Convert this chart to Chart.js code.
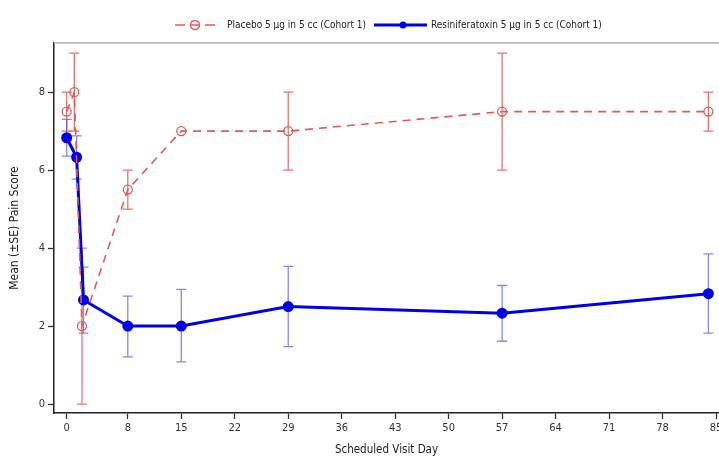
<!DOCTYPE html>
<html><head><meta charset="utf-8">
<script src="https://cdn.jsdelivr.net/npm/chart.js@4/dist/chart.umd.min.js"></script>
<style>html,body{margin:0;padding:0;background:#fff;overflow:hidden;width:719px;height:461px}#wrap{width:726px;height:461px}</style>
</head><body><div id="wrap"><canvas id="c"></canvas></div>
<script>
const placeboDays = [0, 1, 2, 8, 15, 29, 57, 84];
const placeboMean = [7.5, 8.0, 2.0, 5.5, 7.0, 7.0, 7.5, 7.5];
const placeboLow  = [7.0, 7.0, 0.0, 5.0, 7.0, 6.0, 6.0, 7.0];
const placeboHigh = [8.0, 9.0, 4.0, 6.0, 7.0, 8.0, 9.0, 8.0];
const rtxDays = [0, 1.3, 2.2, 8, 15, 29, 57, 84];
const rtxMean = [6.83, 6.33, 2.67, 2.0, 2.0, 2.5, 2.33, 2.83];
const rtxLow  = [6.36, 5.77, 1.82, 1.21, 1.08, 1.47, 1.61, 1.82];
const rtxHigh = [7.30, 6.88, 3.51, 2.77, 2.94, 3.53, 3.04, 3.85];
const xTicks = [0, 8, 15, 22, 29, 36, 43, 50, 57, 64, 71, 78, 85];
const yTicks = [0, 2, 4, 6, 8];
const labels = ['Placebo 5 \u00b5g in 5 cc (Cohort 1)', 'Resiniferatoxin 5 \u00b5g in 5 cc (Cohort 1)'];

const FONT = '"DejaVu Sans Condensed", "Liberation Sans", Arial, sans-serif';
const RED = '#e05a5a', BLUE = '#0000e6';

const mk = (xs, ys) => xs.map((x, i) => ({x, y: ys[i]}));

const errPlugin = {
  id: 'err',
  beforeDatasetsDraw(chart) {
    const {ctx, scales: {x, y}} = chart;
    const sets = [[placeboDays, placeboLow, placeboHigh, 'rgba(224,90,90,0.85)'],
                  [rtxDays, rtxLow, rtxHigh, 'rgba(70,70,230,0.65)']];
    ctx.save();
    sets.forEach(([xs, lo, hi, col]) => {
      ctx.strokeStyle = col; ctx.lineWidth = 1.3;
      xs.forEach((d, i) => {
        if (hi[i] === lo[i]) return;
        const px = x.getPixelForValue(d), p1 = y.getPixelForValue(lo[i]), p2 = y.getPixelForValue(hi[i]);
        ctx.beginPath();
        ctx.moveTo(px, p1); ctx.lineTo(px, p2);
        ctx.moveTo(px - 5, p1); ctx.lineTo(px + 5, p1);
        ctx.moveTo(px - 5, p2); ctx.lineTo(px + 5, p2);
        ctx.stroke();
      });
    });
    ctx.restore();
  }
};

const framePlugin = {
  id: 'frame',
  afterDraw(chart) {
    const {ctx, chartArea: a} = chart;
    ctx.save();
    ctx.strokeStyle = '#c4c4c4'; ctx.lineWidth = 2;
    ctx.beginPath(); ctx.moveTo(a.left, a.top); ctx.lineTo(a.right, a.top); ctx.stroke();
    // legend
    const ds = chart.data.datasets;
    ctx.font = '10px ' + FONT; ctx.textBaseline = 'middle';
    const y0 = 25;
    let xx = 175;
    ctx.strokeStyle = RED; ctx.lineWidth = 1.5;
    ctx.beginPath(); ctx.moveTo(xx, y0); ctx.lineTo(xx + 10, y0); ctx.moveTo(xx + 30, y0); ctx.lineTo(xx + 40, y0); ctx.stroke();
    ctx.beginPath(); ctx.moveTo(xx + 15, y0); ctx.lineTo(xx + 25, y0); ctx.stroke();
    ctx.beginPath(); ctx.arc(xx + 20, y0, 4.5, 0, Math.PI * 2); ctx.stroke();
    ctx.fillStyle = '#222'; ctx.fillText(ds[0].label, xx + 52, y0);
    xx = 374;
    ctx.strokeStyle = BLUE; ctx.lineWidth = 3;
    ctx.beginPath(); ctx.moveTo(xx, y0); ctx.lineTo(xx + 53, y0); ctx.stroke();
    ctx.beginPath(); ctx.arc(xx + 29, y0, 3.5, 0, Math.PI * 2); ctx.fillStyle = BLUE; ctx.fill();
    ctx.fillStyle = '#222'; ctx.fillText(ds[1].label, xx + 57, y0);
    ctx.restore();
  }
};

new Chart(document.getElementById('c'), {
  type: 'line',
  data: {
    datasets: [
      {label: labels[0], data: mk(placeboDays, placeboMean), borderColor: RED, borderWidth: 1.6,
       borderDash: [8, 6], pointStyle: 'circle', pointRadius: 4.5, pointBackgroundColor: 'rgba(255,255,255,0)',
       pointBorderColor: RED, pointBorderWidth: 1.3, tension: 0},
      {label: labels[1], data: mk(rtxDays, rtxMean), borderColor: BLUE, borderWidth: 3,
       pointRadius: 4, pointBackgroundColor: BLUE, pointBorderColor: BLUE, tension: 0}
    ]
  },
  options: {
    responsive: true, maintainAspectRatio: false, animation: false,
    layout: {padding: {top: 43, right: 0, left: 0, bottom: 0}},
    plugins: {legend: {display: false}, tooltip: {enabled: false}},
    scales: {
      x: {type: 'linear', min: -1.66, max: 85.39,
          afterBuildTicks: s => { s.ticks = xTicks.map(v => ({value: v})); },
          afterFit: s => { s.height = 48; },
          grid: {display: true, drawOnChartArea: false, drawTicks: true, tickLength: 6, tickColor: '#333', tickWidth: 1.3},
          border: {display: true, color: '#222', width: 1.5},
          ticks: {color: '#333', font: {family: FONT, size: 11}, padding: 3, maxRotation: 0},
          title: {display: true, text: 'Scheduled Visit Day', color: '#222', font: {family: FONT, size: 11.5}, padding: {top: 5}}},
      y: {type: 'linear', min: -0.23, max: 9.26,
          afterBuildTicks: s => { s.ticks = yTicks.map(v => ({value: v})); },
          afterFit: s => { s.width = 54; },
          grid: {display: true, drawOnChartArea: false, drawTicks: true, tickLength: 6, tickColor: '#333', tickWidth: 1.3},
          border: {display: true, color: '#222', width: 1.5},
          ticks: {color: '#333', font: {family: FONT, size: 11}, padding: 3},
          title: {display: true, text: 'Mean (\u00b1SE) Pain Score', color: '#222', font: {family: FONT, size: 12}, padding: 8}}
    }
  },
  plugins: [errPlugin, framePlugin]
});
</script></body></html>
